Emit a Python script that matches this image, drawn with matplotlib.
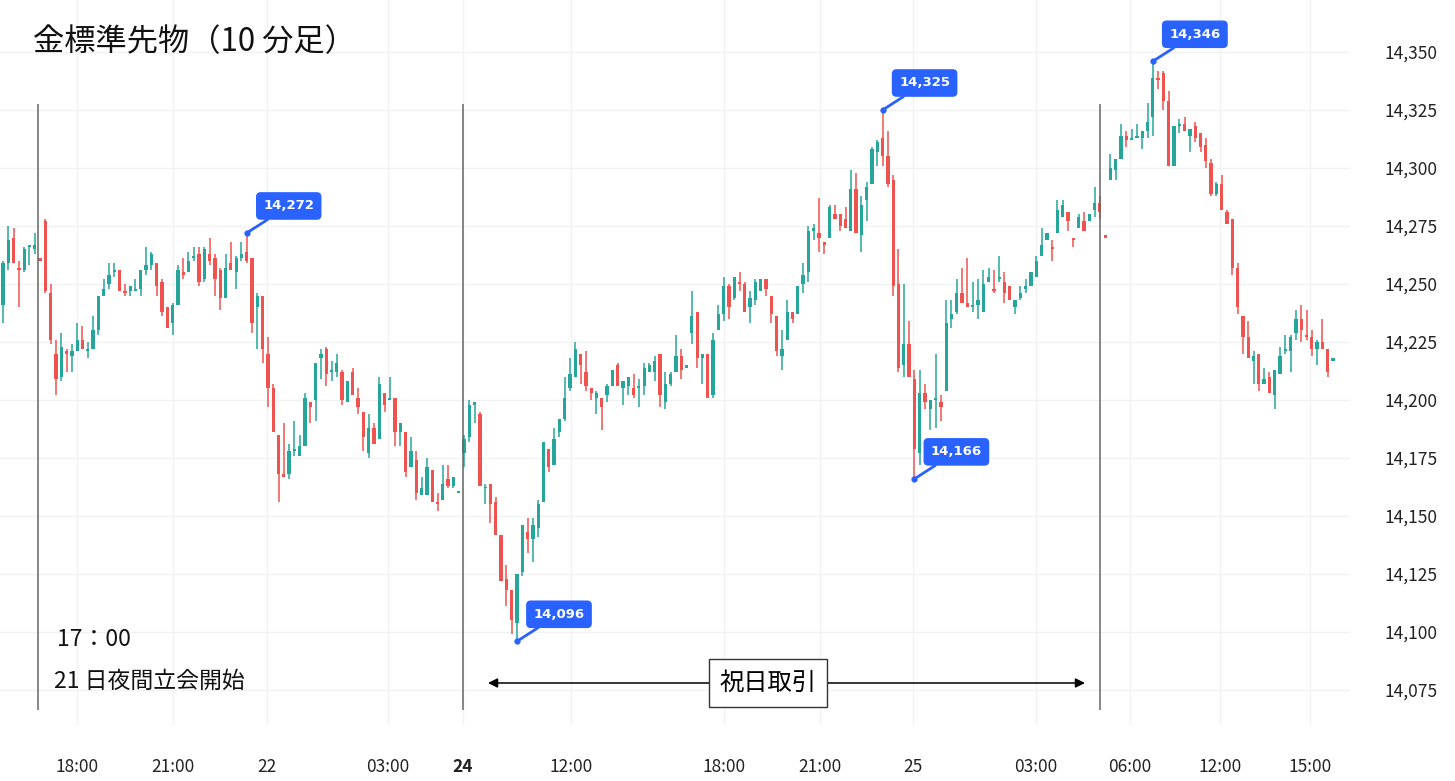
import matplotlib
matplotlib.use("Agg")
import matplotlib.pyplot as plt
import numpy as np

plt.rcParams['font.family'] = ['Noto Sans CJK JP', 'DejaVu Sans']

opens = [14241,14259,14270,14257,14256,14266,14265,14261,14277,14246,14220,14210,14221,14219,14221,14226,14221,14222,14230,14245,
14250,14255,14256,14247,14247,14247,14248,14256,14258,14259,14251,14240,14233,14241,14255,14255,14261,14263,14252,14263,
14261,14256,14244,14259,14255,14261,14264,14261,14240,14245,14220,14205,14185,14168,14168,14178,14176,14180,14199,14200,
14218,14222,14212,14212,14212,14199,14212,14201,14195,14177,14188,14183,14203,14200,14201,14186,14186,14171,14174,14159,
14159,14170,14156,14157,14166,14163,14160,
14177,14184,14198,14194,14162,14164,14156,14142,14123,14118,14104,14126,14143,14140,14145,14156,14179,14172,14186,14192,
14205,14210,14220,14212,14205,14201,14201,14202,14206,14215,14205,14206,14205,14205,14206,14212,14212,14220,14199,14207,
14212,14219,14214,
14229,14238,14218,14220,14202,14230,14237,14249,14244,14251,14250,14240,14243,14247,14252,14245,14236,14219,14226,14238,
14237,14250,14255,14273,14272,14268,14270,14280,14280,14278,14273,14291,14271,14286,14293,14307,14313,14305,14295,14250,
14215,14224,14209,14177,14203,14196,14200,14199,14204,14235,14238,14246,14242,14240,14241,14238,14251,14248,14252,14251,
14249,14240,14244,14248,14249,14253,14262,14269,14266,14272,14279,14281,14270,14274,14277,14277,14282,14285,
14271,14295,14299,14304,14314,14312,14313,14313,14316,14322,14339,14341,14329,14301,14318,14319,14314,14318,14315,14310,
14302,14289,14293,14281,14278,14257,14236,14227,14217,14220,14207,14210,14202,14211,14221,14221,14229,14235,14228,14227,
14222,14225,14222,14217]
highs = [14260,14275,14274,14260,14266,14267,14272,14261,14278,14250,14226,14229,14222,14224,14233,14232,14225,14236,14245,14252,
14259,14259,14256,14250,14249,14252,14256,14266,14264,14259,14252,14240,14242,14258,14261,14264,14266,14266,14266,14270,
14263,14257,14263,14268,14262,14268,14272,14261,14246,14245,14227,14207,14185,14190,14181,14191,14185,14203,14199,14216,
14222,14223,14217,14220,14213,14208,14214,14205,14195,14194,14190,14210,14203,14210,14201,14190,14186,14184,14178,14167,
14175,14170,14160,14172,14172,14167,14160,
14185,14200,14199,14195,14164,14164,14158,14142,14129,14118,14125,14146,14149,14149,14157,14182,14179,14188,14192,14210,
14218,14225,14220,14221,14205,14204,14201,14207,14213,14216,14208,14210,14211,14209,14216,14216,14219,14220,14212,14212,
14228,14222,14215,
14247,14238,14220,14220,14229,14241,14253,14250,14253,14255,14251,14247,14252,14252,14252,14245,14236,14230,14243,14238,
14249,14259,14275,14276,14287,14268,14284,14284,14280,14283,14299,14298,14288,14294,14309,14312,14325,14316,14297,14265,
14250,14234,14213,14213,14207,14200,14220,14202,14243,14243,14252,14257,14261,14251,14252,14256,14257,14256,14262,14255,
14249,14243,14249,14252,14255,14262,14274,14272,14269,14286,14286,14281,14270,14280,14281,14280,14292,14288,
14271,14306,14304,14319,14316,14317,14319,14316,14328,14346,14342,14342,14333,14318,14321,14322,14317,14320,14315,14313,
14304,14294,14297,14282,14278,14259,14236,14234,14221,14220,14214,14212,14213,14223,14228,14228,14239,14241,14239,14230,
14226,14235,14222,14218]
lows = [14233,14256,14259,14240,14255,14258,14263,14260,14246,14224,14202,14208,14212,14212,14221,14222,14218,14222,14228,14245,
14248,14253,14247,14245,14245,14247,14245,14254,14256,14245,14236,14231,14228,14241,14252,14255,14260,14249,14251,14258,
14245,14239,14244,14256,14248,14260,14259,14229,14222,14216,14197,14186,14156,14167,14166,14176,14176,14180,14190,14191,
14209,14206,14208,14210,14198,14199,14202,14194,14178,14175,14181,14183,14195,14200,14180,14180,14167,14171,14157,14159,
14159,14156,14152,14157,14162,14162,14160,
14171,14182,14190,14163,14155,14147,14142,14122,14111,14099,14096,14124,14134,14130,14141,14156,14169,14172,14184,14191,
14204,14210,14207,14204,14200,14194,14187,14199,14206,14206,14198,14202,14201,14197,14202,14212,14208,14197,14196,14206,
14212,14209,14214,
14224,14214,14207,14201,14201,14230,14234,14235,14243,14247,14238,14233,14241,14247,14245,14233,14219,14213,14226,14233,
14237,14246,14251,14269,14264,14263,14270,14278,14273,14274,14273,14272,14264,14277,14293,14301,14301,14292,14245,14212,
14210,14210,14166,14172,14196,14187,14188,14191,14204,14231,14237,14242,14240,14238,14235,14238,14251,14246,14251,14242,
14243,14237,14243,14246,14249,14253,14262,14269,14260,14272,14279,14273,14266,14274,14273,14277,14279,14278,
14270,14295,14295,14304,14309,14312,14313,14308,14313,14314,14334,14325,14301,14301,14315,14316,14307,14311,14307,14300,
14288,14288,14282,14276,14254,14237,14220,14218,14207,14204,14207,14203,14196,14211,14220,14212,14226,14225,14226,14219,
14215,14222,14210,14217]
closes = [14259,14269,14259,14256,14265,14267,14267,14260,14247,14226,14209,14223,14220,14221,14226,14222,14222,14230,14245,14248,
14254,14256,14247,14246,14249,14248,14256,14258,14263,14249,14238,14231,14241,14256,14254,14260,14262,14251,14265,14260,
14252,14244,14257,14256,14261,14263,14260,14233,14245,14222,14205,14186,14168,14167,14178,14179,14180,14201,14197,14216,
14220,14211,14213,14216,14200,14208,14202,14197,14184,14188,14181,14207,14198,14201,14186,14190,14169,14178,14160,14162,
14171,14156,14155,14164,14163,14167,14160,
14183,14198,14199,14163,14162,14155,14142,14122,14118,14105,14125,14146,14140,14146,14155,14182,14171,14183,14192,14201,
14211,14222,14215,14206,14203,14203,14197,14206,14213,14206,14208,14210,14202,14206,14214,14215,14217,14202,14207,14211,
14219,14213,14215,
14236,14218,14220,14201,14226,14237,14249,14240,14253,14250,14238,14244,14251,14252,14248,14237,14221,14222,14238,14235,
14249,14254,14273,14274,14270,14267,14283,14278,14275,14274,14291,14272,14284,14292,14308,14311,14305,14293,14249,14214,
14224,14210,14179,14203,14199,14200,14201,14197,14233,14237,14246,14242,14240,14241,14243,14250,14253,14247,14253,14246,
14243,14243,14246,14249,14255,14260,14267,14272,14265,14282,14284,14277,14269,14279,14273,14280,14285,14281,
14270,14300,14304,14314,14312,14313,14314,14316,14320,14339,14338,14329,14301,14318,14319,14316,14317,14313,14309,14303,
14289,14293,14282,14276,14257,14240,14227,14218,14219,14207,14209,14203,14213,14219,14222,14227,14235,14230,14227,14222,
14225,14222,14212,14218]

xtick_labels = ['18:00', '21:00', '22', '03:00', '24', '12:00', '18:00', '21:00', '25', '03:00', '06:00', '12:00', '15:00']
ytick_values = [14075, 14100, 14125, 14150, 14175, 14200, 14225, 14250, 14275, 14300, 14325, 14350]
callout_idx = [46, 97, 166, 172, 217]
callout_kind = ['high', 'low', 'high', 'low', 'high']

GREEN = '#26a69a'
RED = '#ef5350'
BLUE = '#2962ff'

W, H = 1455, 781
fig = plt.figure(figsize=(W / 100, H / 100), dpi=100)
ax_right_px, ax_bottom_px = 1350, 725
ax = fig.add_axes([0, (H - ax_bottom_px) / H, ax_right_px / W, ax_bottom_px / H])

n = len(closes)
dx = (1333 - 3) / (n - 1)
def px2i(p):
    return (p - 3) / dx
def py2v(p):
    return 14350 - (p - 52) / 2.32

ax.set_xlim(px2i(0), px2i(ax_right_px))
ax.set_ylim(py2v(ax_bottom_px), py2v(0))

o = np.array(opens, float); c = np.array(closes, float)
h = np.array(highs, float); l = np.array(lows, float)
idx = np.arange(n)
up = c >= o
cols = np.where(up, GREEN, RED)
ax.vlines(idx, l, h, colors=cols, linewidth=1.1, zorder=3)
bottom = np.minimum(o, c)
height = np.maximum(np.abs(c - o), 0.6)
ax.bar(idx, height, bottom=bottom, width=0.62, color=cols, linewidth=0, zorder=4)

tick_px = [77, 173, 267, 388, 463, 571, 724, 820, 913, 1036, 1130, 1220, 1310]
xt = [px2i(p) for p in tick_px]
ax.set_xticks(xt)
ax.set_xticklabels(xtick_labels)
ax.set_yticks(ytick_values)
ax.set_yticklabels([f'{v:,}' for v in ytick_values])
ax.yaxis.tick_right()
ax.grid(True, color='#f2f2f2', linewidth=1, zorder=0)
for s in ax.spines.values():
    s.set_visible(False)
ax.tick_params(axis='x', length=0, pad=24, labelsize=12.5, labelcolor='#222222')
ax.tick_params(axis='y', length=0, pad=25, labelsize=12.5, labelcolor='#222222')
for lab in ax.get_xticklabels():
    if lab.get_text() == '24':
        lab.set_fontweight('bold')
for lab in ax.get_yticklabels():
    lab.set_horizontalalignment('left')

for p in [38, 463, 1100]:
    ax.vlines(px2i(p), py2v(710), py2v(104), colors='#666666', linewidth=1.1, zorder=5)

for i, k in zip(callout_idx, callout_kind):
    v = highs[i] if k == 'high' else lows[i]
    ax.plot([i], [v], 'o', color=BLUE, ms=3.5, zorder=7)
    ax.annotate(f'{v:,}', xy=(i, v), xytext=(42, 27), textcoords='offset pixels',
                ha='center', va='center', color='white', fontsize=9.5, fontweight='bold',
                family=['DejaVu Sans'],
                bbox=dict(boxstyle='round,pad=0.5,rounding_size=0.3', fc=BLUE, ec=BLUE),
                arrowprops=dict(arrowstyle='-', color=BLUE, lw=2, shrinkA=0, shrinkB=0),
                zorder=8)

yv = py2v(683)
ax.annotate('', xy=(px2i(488), yv), xytext=(px2i(1085), yv),
            arrowprops=dict(arrowstyle='<|-|>', color='black', lw=1.1, mutation_scale=14,
                            shrinkA=0, shrinkB=0), zorder=6)
ax.text(px2i(768), yv, '祝日取引', ha='center', va='center', fontsize=17.5, zorder=9,
        bbox=dict(boxstyle='square,pad=0.45', fc='white', ec='#333333', lw=1))

ax.text(px2i(57), py2v(640), '17：00', ha='left', va='center', fontsize=16.5, color='#111111')
ax.text(px2i(54), py2v(681), '21 日夜間立会開始', ha='left', va='center', fontsize=16.5, color='#111111')
fig.text(33 / W, 1 - 42 / H, '金標準先物（10 分足）', ha='left', va='center', fontsize=22.5, color='#111111')

fig.savefig('out.png', dpi=100)
